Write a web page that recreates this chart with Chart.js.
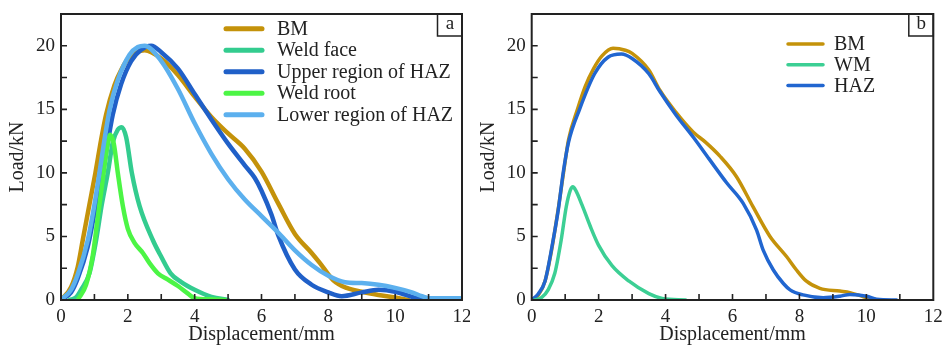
<!DOCTYPE html>
<html>
<head>
<meta charset="utf-8">
<script src="https://cdn.jsdelivr.net/npm/chart.js@4.4.1/dist/chart.umd.min.js"></script>
<style>
  body { margin: 0; background: #fff; }
  #wrap { position: relative; width: 943px; height: 345px; overflow: hidden; }
  canvas { position: absolute; top: 0; }
</style>
</head>
<body>
<div id="wrap">
  <canvas id="chartA" width="470" height="345" style="left:0"></canvas>
  <canvas id="chartB" width="473" height="345" style="left:470px"></canvas>
</div>
<script>
// painel (a): curvas carga x deslocamento
const bmAx = [0, 0.3, 0.5, 0.65, 0.85, 1.03, 1.2, 1.35, 1.6, 1.8, 2.05, 2.5, 3.0, 3.5, 4.0, 4.5, 5.0, 5.5, 6.0, 6.5, 7.0, 7.5, 7.75, 8.15, 8.55, 9.0, 9.5, 10.0, 10.4];
const bmAy = [0, 1.0, 2.6, 4.7, 7.5, 10.0, 12.6, 14.6, 16.9, 18.1, 19.1, 19.65, 19.0, 17.7, 16.0, 14.4, 13.1, 11.9, 10.1, 7.6, 5.2, 3.7, 2.9, 1.55, 0.95, 0.65, 0.4, 0.2, 0];

const faceAx = [0.25, 0.45, 0.6, 0.85, 1.05, 1.22, 1.4, 1.55, 1.7, 1.82, 1.95, 2.12, 2.35, 2.75, 3.0, 3.28, 3.6, 4.0, 4.5, 5.0];
const faceAy = [0, 0.2, 0.8, 2.1, 4.7, 7.5, 10.0, 12.4, 13.4, 13.6, 12.8, 10.0, 7.4, 4.7, 3.4, 2.1, 1.4, 0.8, 0.25, 0];

const upperAx = [0, 0.3, 0.5, 0.8, 1.0, 1.25, 1.4, 1.55, 1.8, 2.1, 2.4, 2.7, 3.0, 3.5, 4.0, 4.5, 5.0, 5.5, 5.8, 6.0, 6.3, 6.5, 7.0, 7.5, 8.0, 8.4, 9.0, 9.5, 10.0, 10.5, 10.8];
const upperAy = [0, 0.6, 1.7, 4.2, 6.8, 10.0, 12.4, 14.6, 17.0, 18.8, 19.7, 20.0, 19.5, 18.2, 16.2, 14.2, 12.3, 10.6, 9.6, 8.6, 6.7, 5.1, 2.4, 1.2, 0.6, 0.3, 0.6, 0.8, 0.65, 0.25, 0];

const rootAx = [0.5, 0.75, 0.95, 1.1, 1.25, 1.38, 1.47, 1.58, 1.7, 1.85, 2.0, 2.2, 2.45, 2.65, 2.9, 3.2, 3.5, 3.8, 4.0, 4.5, 4.9];
const rootAy = [0, 1.2, 3.5, 6.5, 9.5, 12.0, 13.0, 12.3, 10.0, 7.4, 5.6, 4.5, 3.7, 2.9, 2.1, 1.6, 1.1, 0.5, 0.15, 0.05, 0];

const lowerAx = [0, 0.3, 0.5, 0.8, 1.0, 1.15, 1.3, 1.45, 1.7, 2.05, 2.3, 2.5, 3.0, 3.5, 4.0, 4.5, 5.0, 5.5, 6.0, 6.5, 7.0, 7.5, 8.0, 8.5, 9.0, 9.5, 10.0, 10.5, 10.8, 11.05, 12];
const lowerAy = [0, 0.8, 2.0, 4.7, 7.5, 10.0, 12.6, 14.9, 17.3, 19.3, 19.9, 20.0, 18.8, 16.6, 13.9, 11.5, 9.5, 7.9, 6.6, 5.3, 3.9, 2.75, 1.9, 1.4, 1.33, 1.2, 0.95, 0.6, 0.3, 0.13, 0.13];

// painel (b)
const bmBx = [0, 0.2, 0.4, 0.6, 0.8, 0.95, 1.1, 1.38, 1.6, 1.85, 2.1, 2.43, 2.8, 3.0, 3.5, 3.83, 4.3, 4.83, 5.2, 5.63, 6.12, 6.62, 7.12, 7.62, 7.9, 8.2, 8.61, 9.21, 9.51, 9.91, 10.31];
const bmBy = [0, 0.4, 1.5, 4.0, 7.3, 10.0, 12.6, 15.1, 16.8, 18.2, 19.2, 19.8, 19.65, 19.4, 18.1, 16.5, 14.8, 13.2, 12.4, 11.3, 9.7, 7.3, 5.0, 3.4, 2.4, 1.5, 0.92, 0.7, 0.58, 0.26, 0];

const wmBx = [0.09, 0.3, 0.49, 0.69, 0.88, 1.03, 1.15, 1.23, 1.32, 1.5, 1.75, 2.0, 2.4, 2.9, 3.5, 3.9, 4.6];
const wmBy = [0, 0.2, 0.8, 2.1, 4.7, 7.3, 8.6, 8.9, 8.6, 7.5, 5.8, 4.3, 2.7, 1.5, 0.5, 0.12, 0];

const hazBx = [0, 0.2, 0.4, 0.64, 0.8, 0.94, 1.1, 1.43, 1.88, 2.28, 2.68, 3.0, 3.5, 3.83, 4.3, 4.83, 5.3, 5.83, 6.32, 6.72, 6.92, 7.22, 7.52, 7.72, 8.11, 8.71, 9.21, 9.51, 10.01, 10.31, 10.9];
const hazBy = [0, 0.5, 1.5, 4.7, 7.2, 10.0, 12.4, 15.0, 17.8, 19.1, 19.35, 19.0, 17.8, 16.4, 14.6, 12.8, 11.1, 9.2, 7.6, 5.5, 3.9, 2.36, 1.3, 0.8, 0.4, 0.18, 0.3, 0.44, 0.3, 0.05, 0];

const serif = '"Liberation Serif", "Times New Roman", serif';
const cor = '#222';

function pts(xs, ys) {
  return xs.map((x, i) => ({ x: x, y: ys[i] }));
}

function serie(label, xs, ys, color, width, order) {
  return {
    label: label,
    data: pts(xs, ys),
    borderColor: color,
    backgroundColor: color,
    borderWidth: width,
    pointRadius: 0,
    cubicInterpolationMode: 'monotone',
    borderCapStyle: 'round',
    borderJoinStyle: 'round',
    fill: false,
    order: order
  };
}

// moldura, ticks para dentro, caixa da letra e legenda
const moldura = {
  id: 'moldura',
  afterDraw(chart, args, opts) {
    const { ctx, chartArea: a, scales: { x, y } } = chart;
    ctx.save();
    ctx.strokeStyle = cor;
    ctx.lineWidth = 2;
    ctx.strokeRect(a.left, a.top, a.right - a.left, a.bottom - a.top);
    ctx.lineWidth = 1.6;
    ctx.beginPath();
    for (let v = 1; v < 12; v += 1) {
      const px = x.getPixelForValue(v);
      ctx.moveTo(px, a.bottom);
      ctx.lineTo(px, a.bottom - 6);
    }
    for (let v = 2.5; v <= 20; v += 2.5) {
      const py = y.getPixelForValue(v);
      ctx.moveTo(a.left, py);
      ctx.lineTo(a.left + 6, py);
    }
    ctx.stroke();

    // caixa com a letra do painel
    ctx.lineWidth = 1.5;
    ctx.strokeRect(a.right - 24.5, a.top, 24.5, 22);
    ctx.fillStyle = cor;
    ctx.font = '19px ' + serif;
    ctx.textAlign = 'center';
    ctx.textBaseline = 'middle';
    ctx.fillText(opts.letra, a.right - 12, a.top + 10);

    // legenda
    ctx.textAlign = 'left';
    ctx.font = '20px ' + serif;
    ctx.lineCap = 'round';
    opts.itens.forEach((idx, i) => {
      const ds = chart.data.datasets[idx];
      const ly = opts.y0 + i * opts.dy;
      ctx.strokeStyle = ds.borderColor;
      ctx.lineWidth = opts.lw;
      ctx.beginPath();
      ctx.moveTo(opts.x0, ly);
      ctx.lineTo(opts.x1, ly);
      ctx.stroke();
      ctx.fillStyle = cor;
      ctx.fillText(ds.label, opts.tx, ly + 1);
    });
    ctx.restore();
  }
};

function opcoes(padLeft, padRight, yWidth, letra, leg) {
  return {
    responsive: false,
    animation: false,
    devicePixelRatio: 1,
    layout: { padding: { left: padLeft, right: padRight, top: 14, bottom: 0 } },
    plugins: {
      legend: { display: false },
      tooltip: { enabled: false },
      moldura: Object.assign({ letra: letra }, leg)
    },
    scales: {
      x: {
        type: 'linear', min: 0, max: 12,
        grid: { display: false, drawTicks: false },
        border: { display: false },
        ticks: { stepSize: 2, padding: 6, color: cor, font: { family: serif, size: 19 }, maxRotation: 0 },
        title: { display: true, text: 'Displacement/mm', color: cor, font: { family: serif, size: 20, lineHeight: 1 }, padding: { top: 0, bottom: 0 } },
        afterFit(s) { s.height = 45; s.paddingLeft = 0; s.paddingRight = 0; }
      },
      y: {
        type: 'linear', min: 0, max: 22.5,
        grid: { display: false, drawTicks: false },
        border: { display: false },
        ticks: { stepSize: 5, includeBounds: false, padding: 6, color: cor, font: { family: serif, size: 19 } },
        title: { display: true, text: 'Load/kN', color: cor, font: { family: serif, size: 20, lineHeight: 1 }, padding: { top: 2, bottom: 0 } },
        afterFit(s) { s.width = yWidth; s.paddingTop = 0; s.paddingBottom = 0; }
      }
    }
  };
}

new Chart(document.getElementById('chartA'), {
  type: 'line',
  data: {
    datasets: [
      serie('BM', bmAx, bmAy, '#C4920A', 4.5, 5),
      serie('Weld face', faceAx, faceAy, '#33CC8F', 4.5, 3),
      serie('Upper region of HAZ', upperAx, upperAy, '#2060C8', 4.5, 4),
      serie('Weld root', rootAx, rootAy, '#4CF545', 4.5, 2),
      serie('Lower region of HAZ', lowerAx, lowerAy, '#5CB0EE', 4.5, 1)
    ]
  },
  options: opcoes(6, 8, 55, 'a', { itens: [0, 1, 2, 3, 4], x0: 226, x1: 262, tx: 277, y0: 28.7, dy: 21.5, lw: 5 }),
  plugins: [moldura]
});

new Chart(document.getElementById('chartB'), {
  type: 'line',
  data: {
    datasets: [
      serie('BM', bmBx, bmBy, '#C4920A', 3.5, 3),
      serie('WM', wmBx, wmBy, '#3CCF94', 3.5, 1),
      serie('HAZ', hazBx, hazBy, '#2166D0', 3.5, 2)
    ]
  },
  options: opcoes(6.7, 9.7, 55, 'b', { itens: [0, 1, 2], x0: 318, x1: 353, tx: 364, y0: 44, dy: 20.7, lw: 3.5 }),
  plugins: [moldura]
});
</script>
</body>
</html>
